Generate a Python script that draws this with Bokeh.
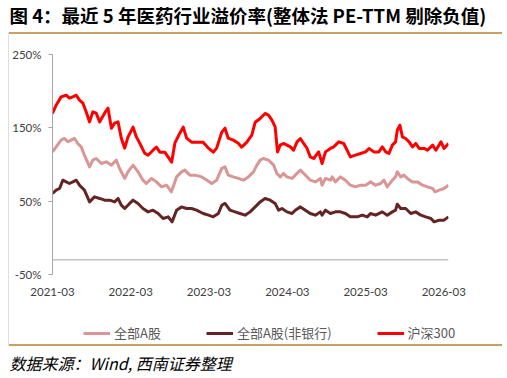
import math
import pandas as pd
from bokeh.plotting import figure
from bokeh.layouts import row, column
from bokeh.models import (ColumnDataSource, Legend, LegendItem, Span, Label, Div,
                          FixedTicker, DatetimeTickFormatter, PrintfTickFormatter, Range1d)
from bokeh.embed import file_html
from bokeh.resources import INLINE

TITLE = "图 4：最近 5 年医药行业溢价率(整体法 PE-TTM 剔除负值)"
SOURCE = "数据来源：Wind,  西南证券整理"
NAMES = ["全部A股", "全部A股(非银行)", "沪深300"]

X_TICKS = ["2021-03-01", "2022-03-01", "2023-03-01", "2024-03-01", "2025-03-01", "2026-03-01"]
X_START, X_END = "2021-03-01", "2026-03-23"
Y_TICKS = [-50, 50, 150, 250]
Y_MIN, Y_MAX = -50, 250
AXIS_CROSS = -30

hs300_dates = [
    "2021-03-01", "2021-03-18", "2021-04-10", "2021-05-04", "2021-05-19", "2021-06-04", "2021-06-20",
    "2021-07-05", "2021-07-21", "2021-08-05", "2021-08-21", "2021-09-05", "2021-09-21", "2021-10-07",
    "2021-10-30", "2021-11-15", "2021-12-01", "2021-12-16",
    "2022-01-01", "2022-01-16", "2022-02-01", "2022-02-16", "2022-03-12", "2022-03-28", "2022-04-12",
    "2022-05-05", "2022-05-21", "2022-06-13", "2022-06-29", "2022-07-15", "2022-08-07", "2022-08-23",
    "2022-09-08", "2022-09-23", "2022-10-16", "2022-11-01", "2022-11-17", "2022-12-10",
    "2023-01-02", "2023-02-02", "2023-02-27", "2023-03-21", "2023-04-06", "2023-04-30", "2023-05-15",
    "2023-05-30", "2023-06-23", "2023-07-16", "2023-08-01", "2023-08-25", "2023-09-17", "2023-10-03",
    "2023-10-26", "2023-11-18", "2023-12-04", "2023-12-20",
    "2024-01-04", "2024-01-15", "2024-01-28", "2024-02-12", "2024-02-28", "2024-03-15", "2024-03-30",
    "2024-04-15", "2024-05-01", "2024-05-16", "2024-06-01", "2024-06-16", "2024-07-02", "2024-07-25",
    "2024-08-10", "2024-08-26", "2024-09-18", "2024-10-03", "2024-10-27", "2024-11-19", "2024-12-05",
    "2024-12-20",
    "2025-01-13", "2025-02-06", "2025-03-01", "2025-03-17", "2025-04-09", "2025-05-02", "2025-05-18",
    "2025-06-03", "2025-06-18", "2025-07-04", "2025-07-19", "2025-07-27", "2025-08-08", "2025-08-20",
    "2025-09-04", "2025-09-20", "2025-10-06", "2025-10-21", "2025-11-06", "2025-11-29", "2025-12-15",
    "2026-01-08", "2026-01-23", "2026-02-16", "2026-03-02", "2026-03-23"]
hs300_vals = [
    169.6, 180.9, 192.2, 194.5, 190.5, 192.2, 194.5, 187.7, 183.6, 171.8, 158.1, 171.8, 170.0, 158.1,
    170.0, 176.8, 149.5, 156.4,
    158.1, 135.9, 122.3, 137.3, 150.9, 137.3, 129.1, 115.5, 112.7, 119.5, 123.6, 116.8, 116.8, 110.0,
    103.2, 129.1, 142.7, 150.9, 135.9, 130.5,
    130.5, 130.5, 122.3, 116.8, 122.3, 144.1, 149.5, 135.9, 133.2, 129.1, 123.6, 130.5, 140.0, 157.7,
    162.8, 169.6, 167.3, 160.5,
    151.3, 117.2, 126.4, 128.7, 126.4, 124.0, 119.5, 130.9, 135.5, 128.7, 121.9, 110.4, 108.2, 117.2,
    101.4, 117.2, 121.9, 124.0, 130.9, 128.7, 119.5, 110.4,
    112.7, 115.0, 117.2, 121.9, 117.2, 117.2, 124.0, 117.2, 115.0, 126.4, 130.9, 146.8, 153.6, 137.7,
    135.5, 130.9, 124.0, 128.7, 121.9, 121.9, 119.5,
    126.4, 119.5, 130.9, 121.9, 128.7]

all_a_dates = [
    "2021-03-01", "2021-03-18", "2021-04-10", "2021-04-26", "2021-05-11", "2021-05-27", "2021-06-12",
    "2021-06-27", "2021-07-13", "2021-07-28", "2021-08-21", "2021-09-05", "2021-09-21", "2021-10-15",
    "2021-11-07", "2021-12-01", "2021-12-24",
    "2022-01-08", "2022-02-01", "2022-02-16", "2022-03-12", "2022-04-04", "2022-04-27", "2022-05-13",
    "2022-06-06", "2022-06-29", "2022-07-23", "2022-08-15", "2022-09-07", "2022-10-01", "2022-10-24",
    "2022-11-09", "2022-12-02", "2022-12-26",
    "2023-01-27", "2023-02-20", "2023-03-14", "2023-04-06", "2023-04-30", "2023-05-15", "2023-05-30",
    "2023-06-23", "2023-07-16", "2023-08-09", "2023-09-01", "2023-09-25", "2023-10-11", "2023-10-26",
    "2023-11-10", "2023-12-04", "2023-12-28",
    "2024-01-12", "2024-01-28", "2024-02-12", "2024-02-28", "2024-03-23", "2024-04-07", "2024-05-01",
    "2024-05-24", "2024-06-16", "2024-07-10", "2024-08-02", "2024-08-10", "2024-08-26", "2024-09-18",
    "2024-09-26", "2024-10-11", "2024-11-04", "2024-11-27", "2024-12-20",
    "2025-01-13", "2025-02-06", "2025-03-01", "2025-03-24", "2025-04-17", "2025-05-10", "2025-05-26",
    "2025-06-10", "2025-07-04", "2025-07-19", "2025-07-27", "2025-08-12", "2025-08-27", "2025-09-12",
    "2025-10-06", "2025-10-29", "2025-11-22", "2025-12-15",
    "2026-01-08", "2026-01-19", "2026-02-08", "2026-03-02", "2026-03-23"]
all_a_vals = [
    117.2, 124.0, 133.2, 135.5, 130.9, 133.2, 135.5, 128.7, 124.0, 112.7, 96.8, 105.9, 108.2, 101.4,
    103.6, 99.1, 105.9,
    94.6, 81.0, 90.0, 99.1, 90.0, 78.6, 74.1, 81.0, 76.3, 69.5, 71.8, 62.7, 83.1, 90.0, 92.3, 85.5, 85.5,
    83.1, 78.6, 74.1, 78.6, 94.6, 96.8, 85.5, 83.1, 81.0, 78.6, 83.1, 90.0, 99.1, 105.9, 108.2, 105.9,
    99.1,
    87.8, 83.1, 87.8, 83.1, 81.0, 85.5, 92.3, 85.5, 78.6, 76.3, 81.0, 71.8, 81.0, 78.6, 83.1, 76.3, 83.1,
    78.6, 71.8,
    69.5, 71.8, 71.8, 76.3, 71.8, 74.1, 78.6, 69.5, 78.6, 83.1, 90.0, 83.1, 85.5, 81.0, 76.3, 76.3, 71.8,
    69.5,
    67.3, 62.7, 65.0, 67.3, 71.8]

nonbank_dates = [
    "2021-03-01", "2021-03-18", "2021-04-03", "2021-04-18", "2021-05-04", "2021-05-19", "2021-06-04",
    "2021-06-20", "2021-07-05", "2021-07-28", "2021-08-21", "2021-09-13", "2021-10-07", "2021-10-30",
    "2021-11-23", "2021-12-16",
    "2022-01-01", "2022-01-16", "2022-02-01", "2022-02-24", "2022-03-12", "2022-04-04", "2022-04-27",
    "2022-05-21", "2022-06-13", "2022-07-07", "2022-07-30", "2022-08-23", "2022-09-10", "2022-10-01",
    "2022-10-24", "2022-11-17", "2022-12-10",
    "2023-01-02", "2023-02-02", "2023-02-27", "2023-03-21", "2023-04-14", "2023-04-30", "2023-05-15",
    "2023-06-07", "2023-07-01", "2023-07-24", "2023-08-17", "2023-09-09", "2023-10-03", "2023-10-26",
    "2023-11-18", "2023-12-12",
    "2024-01-04", "2024-01-20", "2024-02-05", "2024-02-28", "2024-03-23", "2024-04-07", "2024-05-01",
    "2024-05-24", "2024-06-16", "2024-07-10", "2024-08-02", "2024-08-10", "2024-08-26", "2024-09-18",
    "2024-10-11", "2024-11-04", "2024-11-27", "2024-12-20",
    "2025-01-21", "2025-02-14", "2025-03-09", "2025-03-24", "2025-04-17", "2025-05-18", "2025-06-10",
    "2025-07-04", "2025-07-19", "2025-07-27", "2025-08-12", "2025-09-04", "2025-09-28", "2025-10-21",
    "2025-11-14", "2025-12-07", "2025-12-31",
    "2026-01-15", "2026-02-08", "2026-03-02", "2026-03-23"]
nonbank_vals = [
    60.5, 65.0, 67.3, 78.6, 76.3, 74.1, 76.3, 78.6, 71.8, 65.0, 49.0, 55.9, 53.7, 51.4, 51.4, 49.0,
    53.7, 44.5, 40.0, 46.9, 51.4, 46.9, 40.0, 35.4, 37.7, 33.2, 26.4, 28.6, 21.8, 37.7, 42.2, 40.0, 40.0,
    37.7, 33.2, 30.9, 28.6, 33.2, 44.5, 46.9, 37.7, 35.4, 33.2, 30.9, 35.4, 42.2, 49.0, 53.7, 51.4,
    46.9, 37.7, 40.0, 35.4, 33.2, 37.7, 42.2, 37.7, 33.2, 30.9, 35.4, 30.9, 37.7, 33.2, 35.4, 35.4, 33.2,
    28.6,
    28.6, 30.9, 28.6, 33.2, 30.9, 35.4, 30.9, 35.4, 37.7, 45.9, 40.0, 40.0, 33.2, 35.4, 30.9, 28.6, 26.4,
    21.8, 24.1, 24.1, 28.6]

COLORS = ["#D99694", "#632523", "#FF0000"]
TAN = "#C9A060"
GRAY_FRAME = "#BFBFBF"
AXIS_GRAY = "#A6A6A6"
TEXT_GRAY = "#404040"
CJK = "Noto Sans CJK SC"
AX_FONT = "Lato"

# layout geometry (pixels)
STRIP_W = 9
COL_W = 497
RULE_W = 493            # tan rules run to x = 502
HEAD_H, RULE_H, MAIN_H, LEG_H, SRC_H = 32, 2, 288, 22, 31
TOTAL_H = HEAD_H + RULE_H + MAIN_H + LEG_H + RULE_H + SRC_H
FRAME_TOP, FRAME_BOTTOM = 32, 345      # page y extent of grey chart border
FRAME_LINE_X = 8.5


def no_align(f):
    try:
        f.frame_align = False
    except Exception:
        pass
    return f


def blank(w, h, fill="white"):
    f = figure(width=w, height=h, output_backend="svg", toolbar_location=None, title=None,
               x_axis_location=None, y_axis_location=None, min_border=0,
               x_range=Range1d(0, w), y_range=Range1d(0, h))
    f.outline_line_color = None
    f.grid.visible = False
    f.background_fill_color = fill
    f.border_fill_color = fill
    return no_align(f)


def rule(w, h):
    return Div(text="", width=w, height=h, margin=0,
               styles={"background-color": TAN, "height": f"{h}px", "min-height": f"{h}px",
                       "width": f"{w}px", "overflow": "hidden"})


# --- left strip: grey chart border
strip = blank(STRIP_W, TOTAL_H)
strip.segment(x0=[FRAME_LINE_X], y0=[TOTAL_H - FRAME_BOTTOM], x1=[FRAME_LINE_X],
              y1=[TOTAL_H - FRAME_TOP], line_color=GRAY_FRAME, line_width=1)

# --- header: title
head = blank(COL_W, HEAD_H)
head.add_layout(Label(x=0, y=HEAD_H - 14, text=TITLE,
                      text_font=CJK, text_font_style="bold", text_font_size="18.5px",
                      text_baseline="middle", text_color="black"))

# --- main chart
p = figure(width=COL_W, height=MAIN_H, x_axis_type="datetime", output_backend="svg",
           toolbar_location=None, title=None,
           min_border_left=43, min_border_right=58, min_border_top=20, min_border_bottom=48,
           x_range=Range1d(pd.Timestamp(X_START), pd.Timestamp(X_END)),
           y_range=Range1d(Y_MIN, Y_MAX))
no_align(p)
p.outline_line_color = None
p.grid.visible = False

for dates, vals, color in [(all_a_dates, all_a_vals, COLORS[0]),
                           (nonbank_dates, nonbank_vals, COLORS[1]),
                           (hs300_dates, hs300_vals, COLORS[2])]:
    src = ColumnDataSource(dict(x=pd.to_datetime(dates), y=vals))
    p.line("x", "y", source=src, line_color=color, line_width=3, line_join="round")

p.add_layout(Span(location=AXIS_CROSS, dimension="width", line_color=AXIS_GRAY, line_width=1))

yax = p.yaxis[0]
yax.ticker = FixedTicker(ticks=Y_TICKS)
yax.formatter = PrintfTickFormatter(format="%d%%")
yax.axis_line_color = AXIS_GRAY
yax.major_tick_line_color = AXIS_GRAY
yax.major_tick_out = 4
yax.major_tick_in = 0
yax.minor_tick_line_color = None
yax.major_label_text_font = AX_FONT
yax.major_label_text_font_size = "11.5px"
yax.major_label_text_color = TEXT_GRAY
yax.major_label_standoff = 7

xax = p.xaxis[0]
xax.ticker = FixedTicker(ticks=[pd.Timestamp(t).value // 10**6 for t in X_TICKS])
fmt = "%Y-%m"
xax.formatter = DatetimeTickFormatter(years=fmt, months=fmt, days=fmt, hours=fmt, minutes=fmt,
                                      seconds=fmt, milliseconds=fmt, microseconds=fmt,
                                      hourmin=fmt, minsec=fmt)
xax.axis_line_color = None
xax.major_tick_line_color = None
xax.minor_tick_line_color = None
xax.major_tick_out = 0
xax.major_label_standoff = 13
xax.major_label_text_font = AX_FONT
xax.major_label_text_font_size = "11.5px"
xax.major_label_text_color = TEXT_GRAY

# --- legend strip
leg = blank(COL_W, LEG_H)
items = []
for name, color in zip(NAMES, COLORS):
    # legend proxy (no visible data point)
    r = leg.line(x=[math.nan], y=[math.nan], line_color=color, line_width=3)
    items.append(LegendItem(label=name, renderers=[r]))
legend = Legend(items=items, orientation="horizontal", location=(74, LEG_H - 12 - 8),
                spacing=45, glyph_width=27, glyph_height=16, label_height=16, label_standoff=4,
                padding=0, margin=0, border_line_color=None, background_fill_alpha=0,
                label_text_font=CJK, label_text_font_size="13px", label_text_color="#595959")
leg.add_layout(legend)

# --- source line
srcfig = blank(COL_W, SRC_H)
srcfig.add_layout(Label(x=0, y=SRC_H - 16, text=SOURCE,
                        text_font=CJK, text_font_style="italic", text_font_size="16px",
                        text_baseline="middle", text_color="black"))

layout = row(strip, column(head, rule(RULE_W, RULE_H), p, leg, rule(RULE_W, RULE_H), srcfig,
                           spacing=0), spacing=0)
open("out.html", "w").write(file_html(layout, INLINE))
